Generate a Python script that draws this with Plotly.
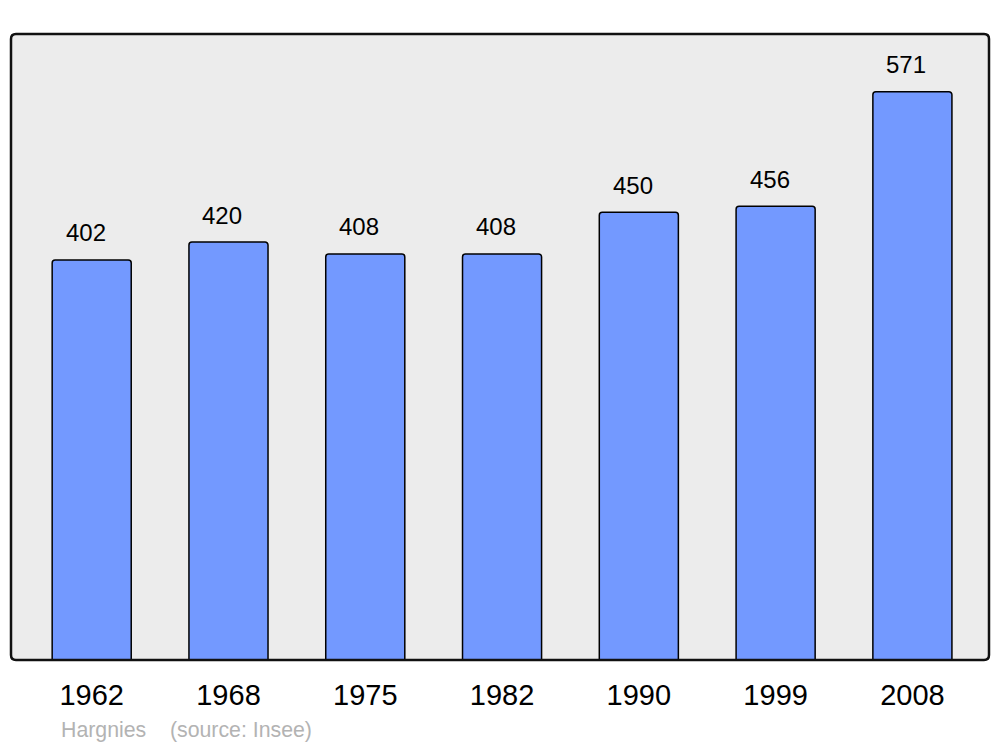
import plotly.graph_objects as go

years = ["1962", "1968", "1975", "1982", "1990", "1999", "2008"]
population = [402, 420, 408, 408, 450, 456, 571]
commune = "Hargnies"
source = "(source: Insee)"

# page body has an 8px margin; compensate so plot area sits at x 11..989, y 34..660
W, H = 992, 739
ml, mr, mt, mb = 3, 11, 26, 87
pw, ph = W - ml - mr, H - mt - mb

fig = go.Figure()
fig.add_trace(go.Bar(
    x=years, y=population,
    width=0.578,
    marker=dict(color="#7399ff", line=dict(color="#000000", width=1.5), cornerradius=3),
    hoverinfo="x+y",
))

for i, v in enumerate(population):
    fig.add_annotation(x=i, y=v, text=str(v), showarrow=False, yanchor="middle",
                       yshift=27, xshift=-6,
                       font=dict(family="Liberation Sans, Arial", size=24, color="#000"))

# rounded border of plot area
rx, ry = 5 / pw, 5 / ph
path = (f"M {rx},0 L {1-rx},0 Q 1,0 1,{ry} L 1,{1-ry} Q 1,1 {1-rx},1 "
        f"L {rx},1 Q 0,1 0,{1-ry} L 0,{ry} Q 0,0 {rx},0 Z")
fig.add_shape(type="path", xref="paper", yref="paper", path=path,
              line=dict(color="#111111", width=2.5), layer="above")

fig.add_annotation(xref="paper", yref="paper", x=(61 - 11) / pw, y=-(730 - 660) / ph,
                   text=f"{commune}&nbsp;&nbsp;&nbsp;&nbsp;{source}", showarrow=False,
                   xanchor="left", yanchor="middle", xshift=-2,
                   font=dict(family="Liberation Sans, Arial", size=21.3, color="#b3b3b3"))

fig.update_layout(
    width=W, height=H,
    margin=dict(l=ml, r=mr, t=mt, b=mb),
    paper_bgcolor="#ffffff", plot_bgcolor="#ececec",
    showlegend=False,
    xaxis=dict(type="category", range=[-0.59, 6.56], showgrid=False, zeroline=False,
               showline=False, ticks="", ticklabelstandoff=15,
               tickfont=dict(family="Liberation Sans, Arial", size=29, color="#000")),
    yaxis=dict(range=[0, 629], showgrid=False, zeroline=False, showline=False,
               showticklabels=False, ticks=""),
)

fig.write_html("out.html")
